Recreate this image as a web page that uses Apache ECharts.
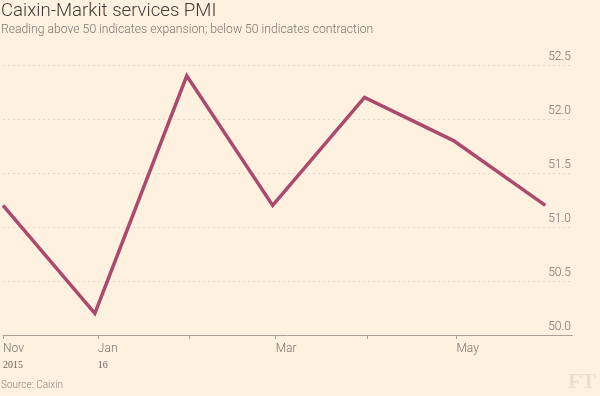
<!DOCTYPE html>
<html>
<head>
<meta charset="utf-8">
<script src="https://cdn.jsdelivr.net/npm/echarts@6/dist/echarts.min.js"></script>
<style>
  html, body { margin: 0; padding: 0; background: #fff1e0; }
  #chart { width: 600px; height: 396px; }
</style>
</head>
<body>
<div id="chart"></div>
<script>
// --- data ---
const dates = ['2015-11-30', '2015-12-31', '2016-01-31', '2016-02-29', '2016-03-31', '2016-04-30', '2016-05-31'];
const pmi = [51.2, 50.2, 52.4, 51.2, 52.2, 51.8, 51.2];

const tickDates = ['2015-11-30', '2016-01-01', '2016-02-01', '2016-03-01', '2016-04-01', '2016-05-01'];
const labelDates = ['2015-11-30', '2016-01-01', '2016-03-01', '2016-05-01'];
const labelMonths = ['Nov', 'Jan', 'Mar', 'May'];
const labelYears = ['2015', '16', '', ''];

const axisMin = '2015-11-30';
const axisMax = '2016-06-09';

// days since axis start
const DAY = 86400000;
const toDay = s => Math.round((Date.parse(s) - Date.parse(axisMin)) / DAY);

const chart = echarts.init(document.getElementById('chart'));

const labelDays = labelDates.map(toDay);

const option = {
  backgroundColor: '#fff1e0',
  animation: false,
  title: [
    {
      text: 'Caixin-Markit services PMI',
      subtext: 'Reading above 50 indicates expansion; below 50 indicates contraction',
      left: -4,
      top: -3,
      itemGap: 3,
      textStyle: { fontFamily: 'Roboto', fontWeight: 300, fontSize: 18.6, color: '#3e3b38' },
      subtextStyle: { fontFamily: 'Roboto', fontWeight: 300, fontSize: 12.2, color: '#7a756f' }
    },
    {
      text: 'Source: Caixin',
      left: -4,
      top: 375,
      textStyle: { fontFamily: 'Roboto', fontWeight: 300, fontSize: 10, color: '#8a847c' }
    },
    {
      text: 'FT',
      right: -1,
      top: 366,
      textStyle: { fontFamily: 'Liberation Serif', fontWeight: 'bold', fontSize: 22, color: '#ebdfcf' }
    }
  ],
  grid: { left: 1, right: 28, top: 65, bottom: 61 },
  xAxis: {
    type: 'value',
    min: 0,
    max: toDay(axisMax),
    axisLine: { show: true, onZero: false, lineStyle: { color: '#aaa196', width: 1 } },
    axisTick: {
      show: true,
      length: 4,
      lineStyle: { color: '#aaa196' },
      customValues: tickDates.map(toDay)
    },
    splitLine: { show: false },
    axisLabel: {
      customValues: labelDays,
      align: 'left',
      margin: 5,
      formatter: function (val) {
        const i = labelDays.indexOf(val);
        if (i < 0) return '';
        return '{m|' + labelMonths[i] + '}' + (labelYears[i] ? '\n{y|' + labelYears[i] + '}' : '');
      },
      rich: {
        m: { fontFamily: 'Roboto', fontWeight: 300, fontSize: 12, color: '#77726c', lineHeight: 18 },
        y: { fontFamily: 'Liberation Serif', fontSize: 10, color: '#6a655f', lineHeight: 14 }
      }
    }
  },
  yAxis: {
    type: 'value',
    position: 'right',
    min: 50,
    max: 52.5,
    interval: 0.5,
    axisLine: { show: false },
    axisTick: { show: false },
    splitLine: { show: true, lineStyle: { color: '#e3d8c9', type: [2, 3], width: 1 } },
    axisLabel: {
      inside: true,
      margin: 1,
      verticalAlign: 'bottom',
      padding: [0, 0, 2, 0],
      fontFamily: 'Roboto',
      fontWeight: 300,
      fontSize: 12,
      color: '#77726c',
      formatter: v => v.toFixed(1)
    }
  },
  series: [
    {
      type: 'line',
      data: dates.map((d, i) => [toDay(d), pmi[i]]),
      showSymbol: false,
      lineStyle: { color: '#ab4a6c', width: 3.5, join: 'miter' },
      itemStyle: { color: '#ab4a6c' }
    }
  ]
};

chart.setOption(option);
</script>
</body>
</html>
